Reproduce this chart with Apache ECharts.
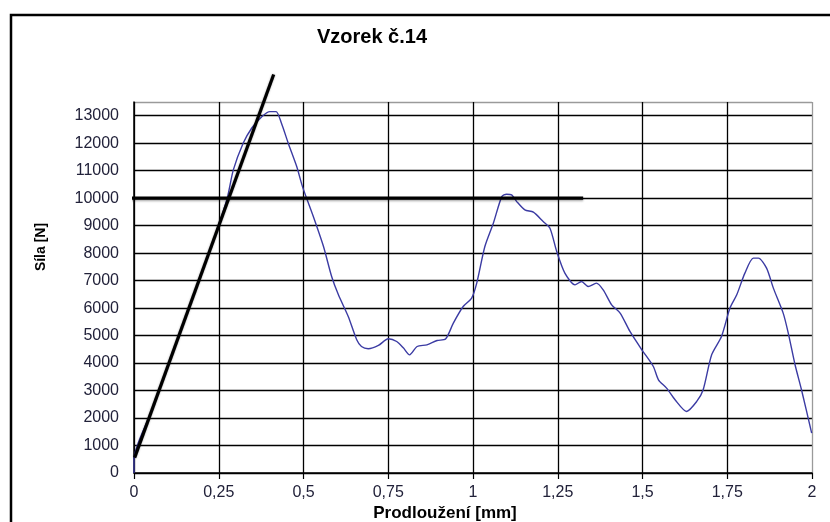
<!DOCTYPE html>
<html>
<head>
<meta charset="utf-8">
<script src="https://cdn.jsdelivr.net/npm/echarts@6/dist/echarts.min.js"></script>
<style>
html,body{margin:0;padding:0;background:#fff;}
#c{width:830px;height:522px;}
</style>
</head>
<body>
<div id="c"></div>
<script>
// Measured curve: elongation [mm] and force [N]
const elongation = [0, 0, 0.05, 0.10, 0.15, 0.20, 0.248, 0.275, 0.293, 0.322, 0.347, 0.377, 0.401, 0.419, 0.435, 0.455, 0.480, 0.497, 0.529, 0.559, 0.583, 0.603, 0.632, 0.657, 0.671, 0.691, 0.721, 0.750, 0.775, 0.795, 0.813, 0.835, 0.864, 0.894, 0.919, 0.942, 0.971, 0.996, 1.011, 1.035, 1.060, 1.085, 1.099, 1.114, 1.129, 1.153, 1.178, 1.207, 1.227, 1.247, 1.271, 1.301, 1.320, 1.340, 1.364, 1.384, 1.409, 1.434, 1.463, 1.498, 1.532, 1.547, 1.571, 1.596, 1.630, 1.660, 1.679, 1.704, 1.733, 1.758, 1.778, 1.802, 1.827, 1.842, 1.866, 1.886, 1.915, 1.930, 1.950, 1.969, 1.999];
const force = [0, 500, 2200, 3900, 5600, 7300, 8956, 10000, 11030, 12000, 12545, 12967, 13150, 13150, 12727, 12000, 11150, 10420, 9330, 8240, 7150, 6483, 5694, 4847, 4603, 4520, 4640, 4883, 4785, 4545, 4300, 4603, 4665, 4822, 4873, 5454, 6058, 6363, 6909, 8240, 9090, 10058, 10145, 10120, 9876, 9574, 9490, 9150, 8908, 8058, 7272, 6847, 6967, 6785, 6909, 6665, 6120, 5818, 5150, 4484, 3876, 3392, 3090, 2665, 2240, 2604, 3029, 4302, 4967, 6000, 6483, 7272, 7818, 7818, 7454, 6727, 5818, 5090, 3938, 3029, 1454];
// Tangent (elastic) line
const tangentX = [0.002, 0.412];
const tangentY = [560, 14500];
// Horizontal level line
const levelX = [-0.018, 1.325];
const levelY = [10000, 10000];

const titleText = 'Vzorek č.14';
const xName = 'Prodloužení [mm]';
const yName = 'Síla [N]';

const curve = elongation.map((x, i) => [x, force[i]]);
const tangent = tangentX.map((x, i) => [x, tangentY[i]]);
const level = levelX.map((x, i) => [x, levelY[i]]);

const FONT = '"Liberation Sans", Arial, sans-serif';
const yLineColors = Array(14).fill('#000').concat(['#9a9a9a']);
const xLineColors = Array(8).fill('#000').concat(['#9a9a9a']);

const chart = echarts.init(document.getElementById('c'), null, {renderer: 'canvas'});
chart.setOption({
  animation: false,
  backgroundColor: '#fff',
  grid: {left: 134, right: 18, top: 102, bottom: 49},
  xAxis: {
    type: 'value', min: 0, max: 2, interval: 0.25,
    axisLine: {show: true, onZero: false, lineStyle: {color: '#000', width: 1.5}},
    axisTick: {show: true, length: 6, lineStyle: {color: '#000', width: 1.2}},
    axisLabel: {
      margin: 12, fontSize: 16, fontFamily: FONT, color: '#22223a',
      formatter: v => String(+v.toFixed(2)).replace('.', ',')
    },
    splitLine: {show: true, lineStyle: {color: xLineColors, width: 1.3}}
  },
  yAxis: {
    type: 'value', min: 0, max: 13500, interval: 1000,
    axisLine: {show: true, lineStyle: {color: '#000', width: 1.5}},
    axisTick: {show: false},
    axisLabel: {
      margin: 15, fontSize: 16, fontFamily: FONT, color: '#22223a',
      formatter: v => (v % 1000 === 0 ? String(v) : '')
    },
    splitLine: {show: true, lineStyle: {color: yLineColors, width: 1.3}}
  },
  graphic: [
    {type: 'rect', shape: {x: 11, y: 15, width: 840, height: 540}, style: {fill: 'none', stroke: '#000', lineWidth: 2.5}, silent: true},
    {type: 'text', x: 372, y: 37, style: {text: titleText, font: 'bold 20px ' + FONT, fill: '#000', align: 'center', verticalAlign: 'middle'}},
    {type: 'text', x: 445, y: 513, style: {text: xName, font: 'bold 17px ' + FONT, fill: '#000', align: 'center', verticalAlign: 'middle'}},
    {type: 'text', x: 41, y: 247, rotation: Math.PI / 2, style: {text: yName, font: 'bold 14px ' + FONT, fill: '#000', align: 'center', verticalAlign: 'middle'}}
  ],
  series: [
    {
      type: 'line', data: curve, showSymbol: false, smooth: 0.25, z: 3,
      lineStyle: {color: '#3b3ba3', width: 1.4}
    },
    {
      type: 'line', data: tangent, showSymbol: false, clip: false, z: 5,
      lineStyle: {color: '#000', width: 3.2, shadowColor: 'rgba(0,0,0,0.35)', shadowBlur: 2}
    },
    {
      type: 'line', data: level, showSymbol: false, clip: false, z: 5,
      lineStyle: {color: '#000', width: 3.2, shadowColor: 'rgba(0,0,0,0.3)', shadowBlur: 2, shadowOffsetY: 1.5}
    }
  ]
});
</script>
</body>
</html>
